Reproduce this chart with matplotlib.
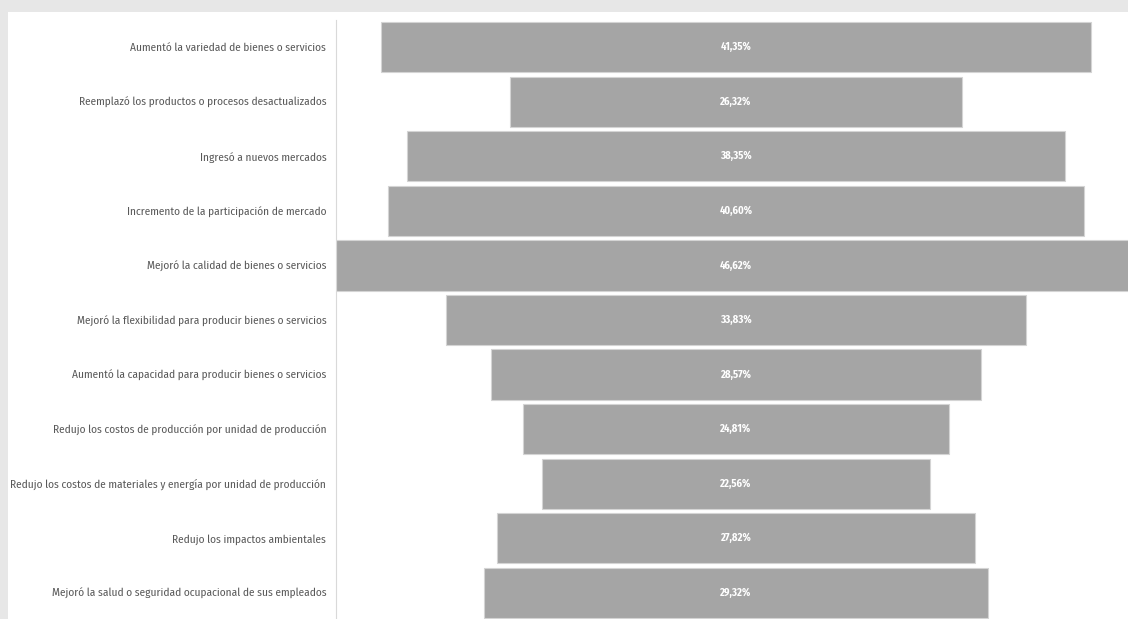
import matplotlib
matplotlib.use("Agg")
import matplotlib.pyplot as plt
from matplotlib.patches import Rectangle

# Data (top to bottom, as in the chart)
categories = [
    "Aumentó la variedad de bienes o servicios",
    "Reemplazó los productos o procesos desactualizados",
    "Ingresó a nuevos mercados",
    "Incremento de la participación de mercado",
    "Mejoró la calidad de bienes o servicios",
    "Mejoró la flexibilidad para producir bienes o servicios",
    "Aumentó la capacidad para producir bienes o servicios",
    "Redujo los costos de producción por unidad de producción",
    "Redujo los costos de materiales y energía por unidad de producción",
    "Redujo los impactos ambientales",
    "Mejoró la salud o seguridad ocupacional de sus empleados",
]
values = [41.35, 26.32, 38.35, 40.60, 46.62, 33.83, 28.57, 24.81, 22.56, 27.82, 29.32]
value_labels = ["41,35%", "26,32%", "38,35%", "40,60%", "46,62%", "33,83%",
                "28,57%", "24,81%", "22,56%", "27,82%", "29,32%"]

# condensed face, close to the narrow Calibri look of the original
plt.rcParams["font.family"] = ["Fira Sans Condensed", "Carlito", "DejaVu Sans"]

W, H = 1128, 619
fig = plt.figure(figsize=(W / 100, H / 100), dpi=100, facecolor="#e7e7e7")
# white chart area, behind everything
fig.patches.append(Rectangle((8 / W, 0), 1, 1 - 12 / H, transform=fig.transFigure,
                             facecolor="white", edgecolor="none", zorder=-10))

ax_left = 336 / W
ax_w = 800 / W
ax_top = 1 - 20 / H
ax_h = (620 - 20) / H
ax = fig.add_axes([ax_left, ax_top - ax_h, ax_w, ax_h])
ax.set_facecolor("none")

y = list(range(len(values)))
lefts = [-v / 2 for v in values]
ax.barh(y, values, left=lefts, height=0.92, color="#a5a5a5",
        edgecolor="#d4d4d4", linewidth=0.8)

val_texts = []
for yi, lab in zip(y, value_labels):
    val_texts.append(ax.text(0, yi, lab, ha="center", va="center", color="white",
                             fontsize=8, fontweight="bold"))

half = max(values) / 2
ax.set_xlim(-half, half)
ax.set_ylim(len(values) - 0.5, -0.5)
ax.set_xticks([])
ax.set_yticks(y)
ax.set_yticklabels(categories, fontsize=10, color="#595959")
ax.tick_params(axis="y", length=0, pad=7)
for s in ["top", "right", "bottom"]:
    ax.spines[s].set_visible(False)
ax.spines["left"].set_color("#d9d9d9")
ax.spines["left"].set_linewidth(0.8)

# scale text sizes so the widths match the original
fig.canvas.draw()
r = fig.canvas.get_renderer()
longest = max(ax.get_yticklabels(), key=lambda t: t.get_window_extent(r).width)
fs = 10 * 317 / longest.get_window_extent(r).width
for t in ax.get_yticklabels():
    t.set_fontsize(fs)
vfs = 8 * 31 / val_texts[0].get_window_extent(r).width
for t in val_texts:
    t.set_fontsize(vfs)

fig.savefig("out.png", dpi=100, facecolor=fig.get_facecolor())
